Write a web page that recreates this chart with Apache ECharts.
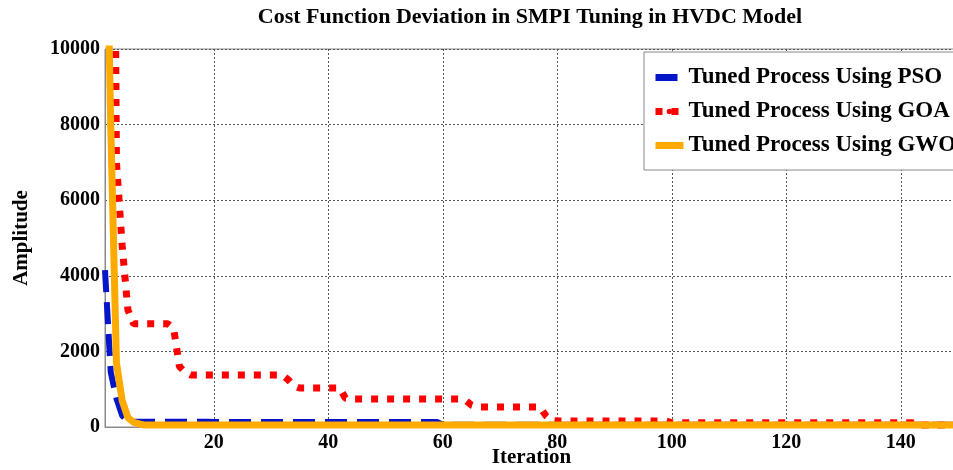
<!DOCTYPE html>
<html><head><meta charset="utf-8">
<script src="https://cdn.jsdelivr.net/npm/echarts@6/dist/echarts.min.js"></script>
<style>html,body{margin:0;padding:0;background:#fff}#c{width:953px;height:470px}</style>
</head><body><div id="c"></div>
<script>
const titleText = 'Cost Function Deviation in SMPI Tuning in HVDC Model';
const xName = 'Iteration';
const yName = 'Amplitude';
const xTicks = [20, 40, 60, 80, 100, 120, 140];
const seriesNames = ['Tuned Process Using PSO', 'Tuned Process Using GOA', 'Tuned Process Using GWO'];

const psoIter = [1, 2, 3, 4, 5, 6, 19, 20, 59, 60, 150];
const psoCost = [4150, 1450, 750, 300, 170, 140, 140, 130, 130, 60, 60];

const goaIter = [1, 2, 3, 4, 5, 6, 12, 13, 14, 15, 16, 32, 33, 34, 35, 42, 43, 44, 63, 64, 65, 66, 77, 78, 79, 80, 99, 100, 142, 143, 150];
const goaCost = [40000, 30000, 7000, 4800, 3100, 2730, 2730, 2600, 1600, 1450, 1375, 1375, 1250, 1090, 1030, 1030, 760, 740, 740, 700, 580, 530, 530, 300, 170, 160, 160, 110, 110, 50, 50];

const gwoIter = [1, 2, 3, 4, 5, 6, 7, 8, 150];
const gwoCost = [16000, 8000, 1700, 700, 250, 120, 80, 50, 50];

const pairs = (xs, ys) => xs.map((x, i) => [x, ys[i]]);
const FONT = 'Liberation Serif';

const chart = echarts.init(document.getElementById('c'), null, {renderer: 'canvas'});
chart.setOption({
  animation: false,
  backgroundColor: '#fff',
  title: {
    text: titleText, left: 530, textAlign: 'center', top: 6, padding: 0,
    textStyle: {fontFamily: FONT, fontWeight: 'bold', fontSize: 22, color: '#000'}
  },
  grid: {left: 105, right: -5, top: 49, bottom: 43, outerBoundsMode: 'none', containLabel: false,
         show: true, borderColor: '#8a8a8a', borderWidth: 1, backgroundColor: 'transparent'},
  legend: {
    orient: 'vertical', left: 644, top: 52,
    padding: [14, 40, 13, 8],
    itemGap: 11, itemWidth: 28, itemHeight: 7,
    backgroundColor: '#fff', borderColor: '#888', borderWidth: 1,
    textStyle: {fontFamily: FONT, fontWeight: 'bold', fontSize: 23, color: '#000', lineHeight: 23},
    lineStyle: {width: 7},
    data: seriesNames
  },
  xAxis: {
    type: 'value', min: 1, max: 150,
    name: xName, nameLocation: 'middle', nameGap: 20, nameMoveOverlap: false,
    nameTextStyle: {fontFamily: FONT, fontWeight: 'bold', fontSize: 21, color: '#000'},
    axisLine: {show: true, lineStyle: {color: '#8a8a8a', width: 1}},
    axisTick: {show: false, customValues: xTicks},
    axisLabel: {customValues: xTicks, margin: 6, fontFamily: FONT, fontWeight: 'bold', fontSize: 20, color: '#000',
                formatter: v => String(v)},
    splitLine: {show: false}
  },
  yAxis: {
    type: 'value', min: 0, max: 10000, interval: 2000,
    name: yName, nameLocation: 'middle', nameGap: 73, nameRotate: 90, nameMoveOverlap: false,
    nameTextStyle: {fontFamily: FONT, fontWeight: 'bold', fontSize: 21, color: '#000'},
    axisLine: {show: true, lineStyle: {color: '#8a8a8a', width: 1}},
    axisTick: {show: false},
    axisLabel: {margin: 5, fontFamily: FONT, fontWeight: 'bold', fontSize: 20, color: '#000',
                formatter: v => String(v)},
    splitLine: {show: true, lineStyle: {color: '#555', width: 1, type: [2, 2]}}
  },
  series: [
    {
      name: seriesNames[0], type: 'line', z: 3, symbol: 'none',
      data: pairs(psoIter, psoCost),
      lineStyle: {color: '#0515C8', width: 6, type: [22, 10]},
      itemStyle: {color: '#0515C8'},
      markLine: {
        z: 1, silent: true, symbol: 'none', label: {show: false},
        lineStyle: {color: '#555', width: 1, type: [2, 2]},
        data: xTicks.map(v => ({xAxis: v}))
      }
    },
    {
      name: seriesNames[1], type: 'line', z: 4, symbol: 'none',
      data: pairs(goaIter, goaCost),
      lineStyle: {color: '#FF0000', width: 7, type: [7, 9]},
      itemStyle: {color: '#FF0000'}
    },
    {
      name: seriesNames[2], type: 'line', z: 5, symbol: 'none',
      data: pairs(gwoIter, gwoCost),
      lineStyle: {color: '#FFAA00', width: 7, type: 'solid'},
      itemStyle: {color: '#FFAA00'}
    }
  ]
});
</script></body></html>
